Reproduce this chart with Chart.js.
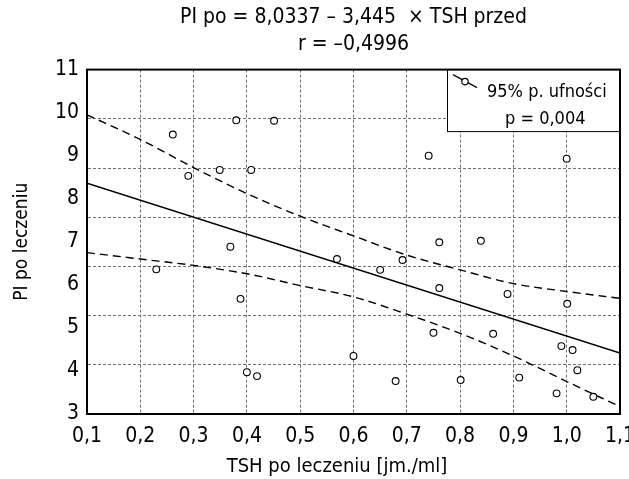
<!DOCTYPE html>
<html>
<head>
<meta charset="utf-8">
<script src="https://cdn.jsdelivr.net/npm/chart.js@4/dist/chart.umd.min.js"></script>
<style>
  html, body { margin: 0; padding: 0; background: #ffffff; }
  #wrap { width: 629px; height: 479px; position: relative; }
</style>
</head>
<body>
<div id="wrap"><canvas id="chart"></canvas></div>
<script>
const FONT_FAMILY = "'Liberation Sans Narrow', 'DejaVu Sans Condensed', 'Roboto', sans-serif";

const xTickLabels = ['0,1', '0,2', '0,3', '0,4', '0,5', '0,6', '0,7', '0,8', '0,9', '1,0', '1,1'];
const yTickLabels = ['3', '4', '5', '6', '7', '8', '9', '10', '11'];

// TSH po leczeniu vs PI po leczeniu
const tshValues = [
  0.230, 0.261, 0.290, 0.349, 0.369, 0.380, 0.388, 0.400, 0.408, 0.419, 0.451,
  0.569, 0.600, 0.650, 0.679, 0.692, 0.741, 0.750, 0.761, 0.761, 0.801, 0.839,
  0.862, 0.889, 0.911, 0.981, 0.990, 1.000, 1.001, 1.011, 1.020, 1.050,
];
const piValues = [
  5.94, 8.68, 7.84, 7.96, 6.40, 8.97, 5.34, 3.85, 7.96, 3.77, 8.96,
  6.15, 4.18, 5.93, 3.67, 6.13, 8.25, 4.65, 6.49, 5.56, 3.69, 6.52,
  4.63, 5.44, 3.74, 3.42, 4.38, 8.19, 5.24, 4.30, 3.89, 3.35,
];

// regression line end points
const fitX = [0.1, 1.1];
const fitY = [7.69, 4.24];

// 95% confidence band
const bandX = [0.1, 0.2, 0.3, 0.4, 0.5, 0.6, 0.7, 0.8, 0.9, 1.0, 1.1];
const bandUpper = [9.08, 8.58, 8.01, 7.48, 7.02, 6.62, 6.23, 5.93, 5.65, 5.49, 5.35];
const bandLower = [6.28, 6.15, 6.02, 5.85, 5.61, 5.38, 5.03, 4.64, 4.18, 3.66, 3.15];

const titleLines = ['PI po = 8,0337 \u2013 3,445  \u00d7 TSH przed', 'r = \u20130,4996'];
const xAxisTitle = 'TSH po leczeniu [jm./ml]';
const yAxisTitle = 'PI po leczeniu';
const legendLines = ['95% p. ufno\u015bci', 'p = 0,004'];

function toPoints(xs, ys) {
  return xs.map((x, index) => ({ x, y: ys[index] }));
}

const frameAndLegend = {
  id: 'frameAndLegend',
  afterDatasetsDraw(chart) {
    const { ctx, chartArea } = chart;
    const { left, top, right, bottom } = chartArea;
    ctx.save();

    // legend box in the top right corner
    const boxLeft = right - 173;
    const boxBottom = top + 62;
    ctx.fillStyle = '#ffffff';
    ctx.fillRect(boxLeft, top, right - boxLeft, boxBottom - top);
    ctx.strokeStyle = '#000000';
    ctx.lineWidth = 1;
    ctx.strokeRect(boxLeft + 0.5, top, right - boxLeft - 0.5, boxBottom - top);

    ctx.lineWidth = 2;
    ctx.strokeRect(left, top, right - left, bottom - top);

    ctx.lineWidth = 1.2;
    ctx.beginPath();
    ctx.moveTo(boxLeft + 6, top + 5);
    ctx.lineTo(boxLeft + 30, top + 18);
    ctx.stroke();
    ctx.beginPath();
    ctx.arc(boxLeft + 18, top + 12, 3.2, 0, Math.PI * 2);
    ctx.fillStyle = '#ffffff';
    ctx.fill();
    ctx.stroke();

    ctx.fillStyle = '#000000';
    ctx.font = `18px ${FONT_FAMILY}`;
    ctx.textBaseline = 'middle';
    ctx.textAlign = 'left';
    ctx.fillText(legendLines[0], boxLeft + 40, top + 23);
    ctx.fillText(legendLines[1], boxLeft + 58, top + 50);

    // x axis title sits a bit left of the plot centre
    ctx.font = `20px ${FONT_FAMILY}`;
    ctx.textAlign = 'center';
    ctx.fillText(xAxisTitle, left + 250, bottom + 53);
    ctx.restore();
  },
};

const lineStyle = {
  showLine: true,
  pointRadius: 0,
  pointHoverRadius: 0,
  borderColor: '#000000',
  fill: false,
};

new Chart(document.getElementById('chart'), {
  type: 'scatter',
  data: {
    datasets: [
      {
        label: 'PI po leczeniu',
        data: toPoints(tshValues, piValues),
        pointRadius: 3.4,
        pointBorderWidth: 1.1,
        pointBackgroundColor: '#ffffff',
        pointBorderColor: '#000000',
        yAxisID: 'y',
        order: 0,
      },
      {
        ...lineStyle,
        label: 'Regresja',
        data: toPoints(fitX, fitY),
        borderWidth: 1.6,
        yAxisID: 'y',
        order: 1,
      },
      {
        ...lineStyle,
        label: 'G\u00f3rna granica',
        data: toPoints(bandX, bandUpper),
        borderWidth: 1.4,
        borderDash: [8, 5],
        cubicInterpolationMode: 'monotone',
        yAxisID: 'y',
        order: 1,
      },
      {
        ...lineStyle,
        label: 'Dolna granica',
        data: toPoints(bandX, bandLower),
        borderWidth: 1.4,
        borderDash: [8, 5],
        cubicInterpolationMode: 'monotone',
        yAxisID: 'y',
        order: 1,
      },
    ],
  },
  options: {
    responsive: true,
    maintainAspectRatio: false,
    animation: false,
    layout: { padding: { top: 0, right: 9, bottom: 0, left: 0 } },
    plugins: {
      legend: { display: false },
      tooltip: { enabled: false },
      title: {
        display: true,
        fullSize: false,
        text: titleLines,
        color: '#000000',
        font: { family: FONT_FAMILY, size: 21, weight: 'normal', lineHeight: 1.3 },
        padding: { top: 4, bottom: 11 },
      },
    },
    scales: {
      x: {
        type: 'linear',
        min: 0.1,
        max: 1.1,
        afterFit(scale) {
          scale.height = 65;
          scale.paddingLeft = 0;
          scale.paddingRight = 0;
        },
        ticks: {
          stepSize: 0.1,
          autoSkip: false,
          maxRotation: 0,
          padding: 10,
          color: '#000000',
          font: { family: FONT_FAMILY, size: 21 },
          callback: (value, index) => xTickLabels[index],
        },
        grid: { color: '#707070', lineWidth: 1, drawTicks: false },
        border: { display: true, color: '#000000', width: 2, dash: [3, 2] },
      },
      y: {
        type: 'linear',
        position: 'left',
        min: 3,
        max: 10,
        weight: 0,
        afterFit(scale) { scale.width = 0; },
        ticks: { stepSize: 1, display: false },
        grid: { color: '#707070', lineWidth: 1, drawTicks: false },
        border: { display: true, color: '#000000', width: 2, dash: [3, 2] },
      },
      yLabels: {
        type: 'linear',
        position: 'left',
        min: 3,
        max: 11,
        weight: 1,
        afterFit(scale) { scale.width = 87; },
        ticks: {
          stepSize: 1,
          padding: 8,
          color: '#000000',
          font: { family: FONT_FAMILY, size: 21 },
          callback: (value, index) => yTickLabels[index],
        },
        grid: { display: false, drawTicks: false },
        border: { display: false },
        title: {
          display: true,
          text: yAxisTitle,
          color: '#000000',
          font: { family: FONT_FAMILY, size: 19 },
          padding: { top: 11, bottom: 0 },
        },
      },
    },
  },
  plugins: [frameAndLegend],
});
</script>
</body>
</html>
